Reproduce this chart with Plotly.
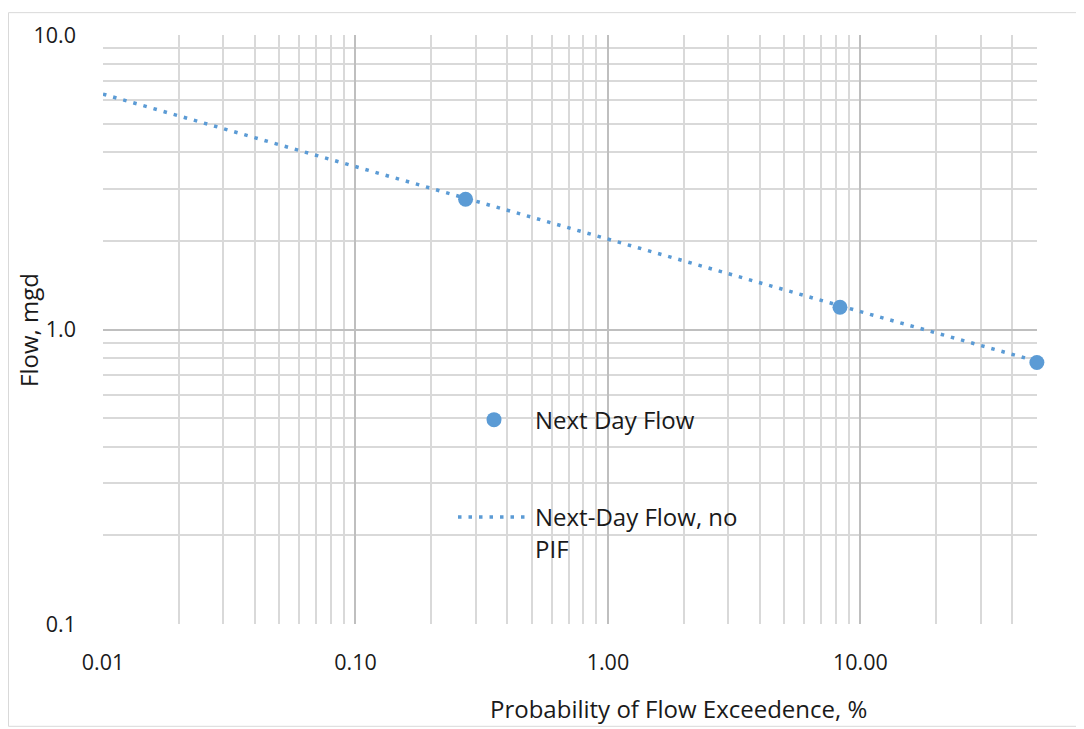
import math
import plotly.graph_objects as go

# Data
pt_x = [0.273, 8.3, 50]
pt_y = [2.77, 1.19, 0.773]

trend_x = [0.01, 0.1, 1, 10, 50]
trend_y = [6.3, 3.57, 2.02, 1.15, 0.78]

x_major = [0.01, 0.1, 1, 10]
x_labels = ["0.01", "0.10", "1.00", "10.00"]
y_major = [0.1, 1, 10]
y_labels = ["0.1", "1.0", "10.0"]

x_minor = [m * d for d in (0.01, 0.1, 1, 10) for m in range(2, 10) if m * d <= 50.0001]
y_minor = [m * d for d in (0.1, 1) for m in range(2, 10)]

BLUE = "#5B9BD5"
FONT = "Open Sans"
TXT = "#1a1a1a"

# page body has an 8px margin; work in reference-screen coordinates
OFF = 8
W, H = 1084 - OFF, 729 - OFF
P_L, P_R, P_T, P_B = 103, 1037, 31, 624  # plot area in screen coords
L, T = P_L - OFF, P_T - OFF
R, B = W - (P_R - OFF), H - (P_B - OFF)
PW, PH = P_R - P_L, P_B - P_T


def px2x(px):
    return (px - P_L) / PW


def px2y(py):
    return (P_B - py) / PH


fig = go.Figure()
fig.add_trace(go.Scatter(
    x=trend_x, y=trend_y, mode="lines", name="Next-Day Flow, no<br>PIF",
    line=dict(color=BLUE, width=3.5, dash="3.5px,7px"),
    legend="legend2", cliponaxis=False,
))
fig.add_trace(go.Scatter(
    x=pt_x, y=pt_y, mode="markers", name="Next Day Flow",
    marker=dict(color=BLUE, size=15),
    cliponaxis=False,
))

fig.update_layout(
    width=W, height=H,
    margin=dict(l=L, r=R, t=T, b=B),
    paper_bgcolor="white", plot_bgcolor="white",
    font=dict(family=FONT, size=20, color=TXT),
    showlegend=True,
    legend=dict(x=px2x(453), y=px2y(396), xanchor="left", yanchor="top",
                itemwidth=72, font=dict(family=FONT, size=24, color=TXT),
                bgcolor="rgba(0,0,0,0)"),
    legend2=dict(x=px2x(453), y=px2y(494), xanchor="left", yanchor="top",
                 itemwidth=72, valign="top", font=dict(family=FONT, size=24, color=TXT),
                 bgcolor="rgba(0,0,0,0)"),
    shapes=[dict(type="rect", xref="paper", yref="paper",
                 x0=px2x(8.5), x1=px2x(1080), y0=px2y(727), y1=px2y(8.5),
                 line=dict(color="#d9d9d9", width=1), layer="below")],
    annotations=[
        dict(text="Probability of Flow Exceedence, %", xref="paper", yref="paper",
             x=px2x(678), y=px2y(709), xanchor="center", yanchor="middle",
             showarrow=False, font=dict(family=FONT, size=24, color=TXT)),
        dict(text="Flow, mgd", xref="paper", yref="paper",
             x=px2x(29), y=px2y(328), xanchor="center", yanchor="middle",
             textangle=-90, showarrow=False, font=dict(family=FONT, size=24, color=TXT)),
    ],
)

fig.update_xaxes(
    type="log", range=[-2, math.log10(50) + 0.0005], tickmode="array",
    tickvals=x_major, ticktext=x_labels,
    showgrid=True, gridcolor="#bfbfbf", gridwidth=1.5, zeroline=False, showline=False,
    ticks="", ticklabelstandoff=23, tickfont=dict(family=FONT, size=21.5, color=TXT),
    minor=dict(tickmode="array", tickvals=x_minor, showgrid=True, gridcolor="#d9d9d9",
               gridwidth=1.5, ticks=""),
)
fig.update_yaxes(
    type="log", range=[-1, 1], tickmode="array", tickvals=y_major, ticktext=y_labels,
    showgrid=True, gridcolor="#bfbfbf", gridwidth=1.5, zeroline=False, showline=False,
    ticks="", ticklabelstandoff=26, tickfont=dict(family=FONT, size=21.5, color=TXT),
    minor=dict(tickmode="array", tickvals=y_minor, showgrid=True, gridcolor="#d9d9d9",
               gridwidth=1.5, ticks=""),
)

fig.write_html("out.html")
